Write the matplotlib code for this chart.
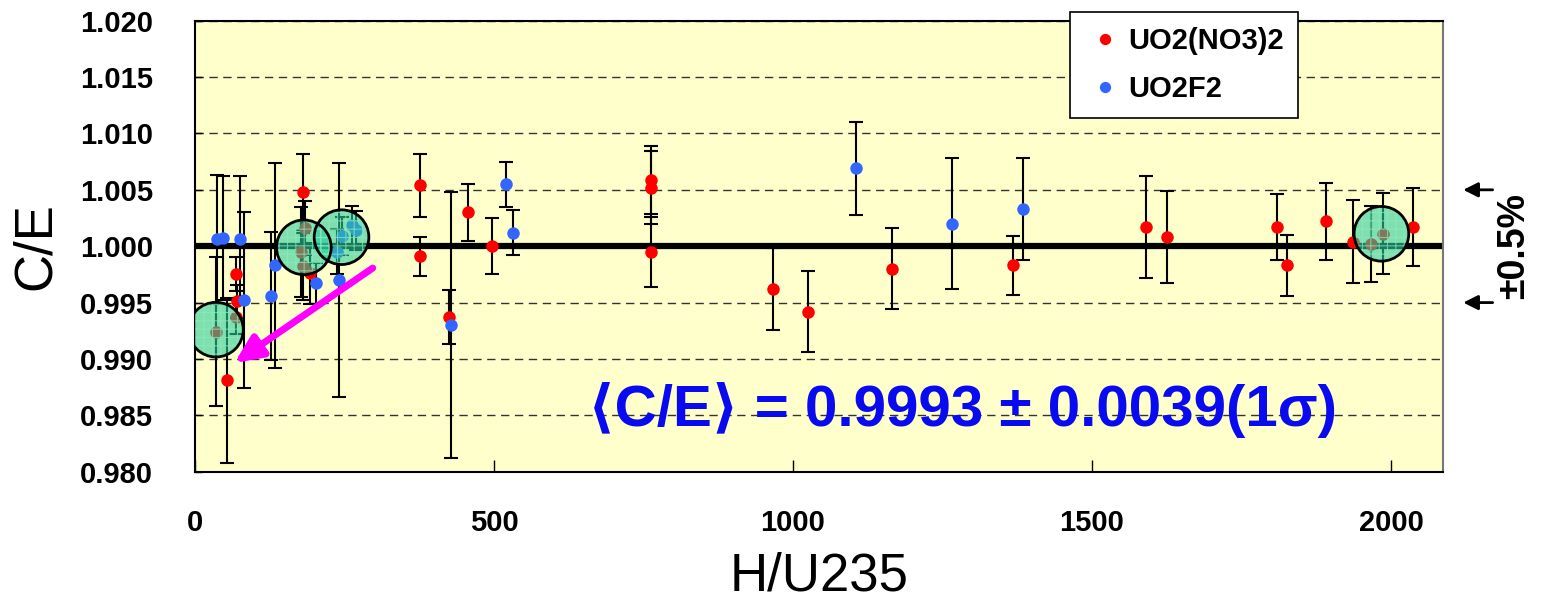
import matplotlib.pyplot as plt
import matplotlib.transforms as mtransforms

plt.rcParams['font.family'] = ['Liberation Sans', 'DejaVu Sans']
plt.rcParams['hatch.linewidth'] = 0.8

# UO2(NO3)2 series
no3_x = [35, 53, 68, 70, 69, 180, 184, 178, 181, 192, 376, 376, 425, 457, 497,
         762, 762, 762, 967, 1025, 1166, 1368, 1591, 1626, 1809, 1826, 1892,
         1937, 1966, 1987, 2037]
no3_y = [0.9924, 0.9881, 0.9975, 0.9951, 0.9937, 1.0048, 1.0016, 0.9995, 0.9982,
         0.9976, 1.0054, 0.9991, 0.9937, 1.0030, 1.0000, 1.0059, 1.0052, 0.9995,
         0.9962, 0.9942, 0.9980, 0.9983, 1.0017, 1.0008, 1.0017, 0.9983, 1.0022,
         1.0004, 1.0002, 1.0011, 1.0017]
no3_err = [0.0066, 0.0073, 0.0015, 0.0015, 0.0015, 0.0034, 0.0024, 0.0040, 0.0030,
           0.0027, 0.0028, 0.0017, 0.0024, 0.0025, 0.0025, 0.0030, 0.0032, 0.0031,
           0.0036, 0.0036, 0.0036, 0.0026, 0.0045, 0.0041, 0.0029, 0.0027, 0.0034,
           0.0037, 0.0034, 0.0036, 0.0035]

# UO2F2 series
f2_x = [36, 47, 76, 82, 127, 134, 202, 237, 241, 245, 262, 269, 428, 520, 531,
        1105, 1266, 1384]
f2_y = [1.0006, 1.0007, 1.0006, 0.9952, 0.9956, 0.9983, 0.9967, 0.9995, 0.9970,
        1.0009, 1.0019, 1.0014, 0.9930, 1.0055, 1.0012, 1.0069, 1.0020, 1.0033]
f2_err = [0.0057, 0.0055, 0.0056, 0.0078, 0.0057, 0.0091, 0.0018, 0.0020, 0.0104,
          0.0017, 0.0017, 0.0017, 0.0118, 0.0020, 0.0020, 0.0041, 0.0058, 0.0045]

# highlighted groups (circles)
circ_x = [35, 182, 245, 1984]
circ_y = [0.9926, 0.9999, 1.0008, 1.0011]

x_ticks = [0, 500, 1000, 1500, 2000]
y_ticks = [0.980, 0.985, 0.990, 0.995, 1.000, 1.005, 1.010, 1.015, 1.020]

fig = plt.figure(figsize=(15.46, 6.06), dpi=100)
ax = fig.add_axes([195 / 1546, 1 - 471.7 / 606, 1248 / 1546, 451 / 606])
ax.set_facecolor('#FFFFCC')
ax.set_xlim(0, 2087)
ax.set_ylim(0.980, 1.020)
ax.set_axisbelow(True)

ax.set_yticks(y_ticks)
ax.set_yticklabels([f'{v:.3f}' for v in y_ticks])
ax.set_xticks(x_ticks)
ax.yaxis.grid(True, linestyle=(0, (6, 4)), color='#333333', linewidth=1)
ax.tick_params(axis='y', direction='in', length=5, width=1, pad=30,
               labelsize=21)
ax.tick_params(axis='x', direction='in', length=9, width=1, pad=27,
               labelsize=21)
for lab in ax.get_xticklabels() + ax.get_yticklabels():
    lab.set_fontweight('bold')
for sp in ax.spines.values():
    sp.set_linewidth(1.5)
ax.spines['right'].set_color('#777777')

ax.axhline(1.0, color='black', linewidth=4.5, zorder=2)

# error bars + points
ax.errorbar(no3_x, no3_y, yerr=no3_err, fmt='none', ecolor='black',
            elinewidth=1.5, capsize=5, capthick=1.5, zorder=3)
ax.errorbar(f2_x, f2_y, yerr=f2_err, fmt='none', ecolor='black',
            elinewidth=1.5, capsize=5, capthick=1.5, zorder=3)
ax.plot(no3_x, no3_y, 'o', color='#FF0000', markersize=9, markeredgewidth=0,
        label='UO2(NO3)2', zorder=4)
ax.plot(f2_x, f2_y, 'o', color='#3366FF', markersize=9, markeredgewidth=0,
        label='UO2F2', zorder=4)

# circles over the groups
ax.scatter(circ_x, circ_y, s=1550, facecolor=(0.15, 0.8, 0.6), alpha=0.6,
           linewidths=0, zorder=5)
ax.scatter(circ_x, circ_y, s=1550, facecolor='none', edgecolors='#8fe8c4',
           linewidths=0, hatch='++', alpha=0.7, zorder=5)
ax.scatter(circ_x, circ_y, s=1550, facecolor='none', edgecolors='black',
           linewidths=2, zorder=6)

# magenta arrow
ax.annotate('', xy=(62, 0.9895), xytext=(301, 0.9982),
            arrowprops=dict(arrowstyle='-|>,head_length=0.55,head_width=0.25',
                            color='#FF00FF', lw=5, mutation_scale=30),
            zorder=7)

ax.text(1283, 0.9855, '⟨C/E⟩ = 0.9993 ± 0.0039(1σ)', color='#0A0AF0',
        fontsize=42, fontweight='bold', ha='center', va='center', zorder=7)

# ±0.5% band marks on the right
trans = mtransforms.blended_transform_factory(ax.transAxes, ax.transData)
for yv in [1.005, 0.995]:
    ax.annotate('', xy=(1.014, yv), xycoords=trans, xytext=(1.042, yv),
                textcoords=trans,
                arrowprops=dict(arrowstyle='-|>', color='black', lw=2,
                                mutation_scale=22),
                annotation_clip=False)
ax.text(1.057, 1.000, '±0.5%', transform=trans, rotation=90, ha='center',
        va='center', fontsize=27, fontweight='bold')

ax.set_xlabel('H/U235', fontsize=38, labelpad=10)
ax.set_ylabel('C/E', fontsize=38, labelpad=14)

leg = ax.legend(loc='upper left', bbox_to_anchor=(0.701, 1.0186),
                borderaxespad=0, frameon=True, fancybox=False,
                edgecolor='black', framealpha=1,
                prop=dict(size=21, weight='bold'),
                handletextpad=0.1, borderpad=0.5, labelspacing=0.7,
                handlelength=1.4, markerscale=0.9)
leg.get_frame().set_linewidth(1.2)
leg.set_zorder(10)

fig.savefig('out.png', dpi=100)
